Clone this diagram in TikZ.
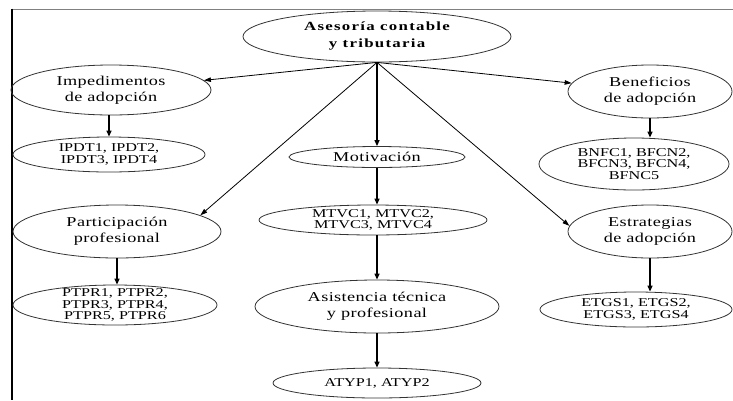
\documentclass[tikz,border=0pt]{standalone}
\usepackage{fontspec}
\setmainfont{Liberation Serif}[FakeStretch=1.35]
\usetikzlibrary{arrows.meta,shapes.geometric}
\begin{document}
\begin{tikzpicture}[x=1pt,y=-1pt,
  ell/.style={draw=black!80, line width=0.8pt, ellipse, inner xsep=0pt, inner ysep=-6pt, align=center},
  lab/.style={ell, font=\fontsize{13.5}{16}\selectfont\addfontfeatures{LetterSpace=3}},
  code/.style={ell, font=\fontsize{12}{11.5}\selectfont},
  topnode/.style={ell, font=\fontsize{12.5}{17}\selectfont\bfseries\addfontfeatures{LetterSpace=10}},
  varrow/.style={-{Triangle[length=6pt,width=5pt]}, line width=1.2pt},
  darrow/.style={-{Triangle[length=7pt,width=4.5pt]}, line width=0.8pt}]
\useasboundingbox (0,0) rectangle (733,400);
\draw[gray, line width=1pt] (12,9) -- (733,9);
\draw[black, line width=2pt] (12,8.5) -- (12,400);

\node[topnode, minimum width=268pt, minimum height=51pt] (top) at (377,36.5) {Asesoría contable\\y tributaria};
\node[lab, minimum width=200pt, minimum height=50pt] (imp) at (111,90) {Impedimentos\\de adopción};
\node[code, minimum width=192pt, minimum height=35pt] (ipdt) at (109,154.5) {IPDT1, IPDT2,\\IPDT3, IPDT4};
\node[lab, minimum width=176pt, minimum height=21pt] (mot) at (377,157) {Motivación};
\node[lab, minimum width=164pt, minimum height=53pt] (ben) at (650,91.5) {Beneficios\\de adopción};
\node[code, minimum width=190pt, minimum height=52pt] (bnfc) at (634,164) {BNFC1, BFCN2,\\BFCN3, BFCN4,\\BFNC5};
\node[lab, minimum width=208pt, minimum height=53pt] (par) at (117,231.5) {Participación\\profesional};
\node[code, minimum width=204pt, minimum height=40pt] (ptpr) at (115,305) {PTPR1, PTPR2,\\PTPR3, PTPR4,\\PTPR5, PTPR6};
\node[code, minimum width=228pt, minimum height=30pt] (mtvc) at (373,220) {MTVC1, MTVC2,\\MTVC3, MTVC4};
\node[lab, minimum width=244pt, minimum height=53pt] (asis) at (377,306.5) {Asistencia técnica\\y profesional};
\node[code, minimum width=208pt, minimum height=30pt] (atyp) at (377,383) {ATYP1, ATYP2};
\node[lab, minimum width=164pt, minimum height=53pt] (est) at (650,231.5) {Estrategias\\de adopción};
\node[code, minimum width=192pt, minimum height=35pt] (etgs) at (636,309.5) {ETGS1, ETGS2,\\ETGS3, ETGS4};

\draw[darrow] (top.south) -- (imp);
\draw[darrow] (top.south) -- (par.11);
\draw[varrow] (top.south) -- (top.south |- mot.north);
\draw[darrow] (top.south) -- (est.176);
\draw[darrow] (top.south) -- (ben);

\draw[varrow] (ipdt.north |- imp.south) -- (ipdt.north);
\draw[varrow] (par.south) -- (par.south |- ptpr.north);
\draw[varrow] (ben.south) -- (ben.south |- bnfc.north);
\draw[varrow] (est.south) -- (est.south |- etgs.north);
\draw[varrow] (mot.south) -- (mot.south |- mtvc.north);
\draw[varrow] (mot.south |- mtvc.south) -- (mot.south |- asis.north);
\draw[varrow] (asis.south) -- (asis.south |- atyp.north);
\end{tikzpicture}
\end{document}
